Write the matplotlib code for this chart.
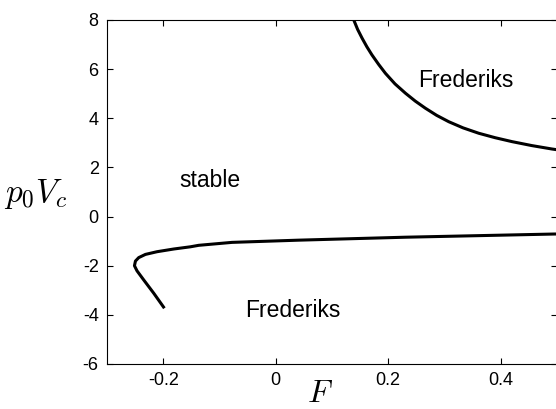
import matplotlib
matplotlib.use('Agg')
import matplotlib.pyplot as plt

# upper Frederiks boundary
f_upper = [0.1387, 0.1455, 0.1535, 0.162, 0.171, 0.183, 0.195, 0.212, 0.2306, 0.248, 0.266,
           0.286, 0.3076, 0.333, 0.361, 0.390, 0.420, 0.455, 0.491, 0.5]
p_upper = [8.0, 7.62, 7.26, 6.91, 6.58, 6.19, 5.83, 5.40, 5.02, 4.70, 4.41,
           4.12, 3.86, 3.61, 3.39, 3.21, 3.05, 2.89, 2.75, 2.72]

# lower Frederiks boundary
f_lower = [-0.198, -0.2169, -0.2347, -0.2466, -0.2512, -0.2494, -0.2436, -0.2317, -0.211,
           -0.1813, -0.1517, -0.137, -0.0777, 0.041, 0.2305, 0.496, 0.5]
p_lower = [-3.73, -3.12, -2.58, -2.21, -2.00, -1.81, -1.67, -1.54, -1.43,
           -1.32, -1.23, -1.17, -1.05, -0.96, -0.84, -0.71, -0.71]

x_ticks = [-0.2, 0, 0.2, 0.4]
x_tick_labels = ['-0.2', '0', '0.2', '0.4']
y_ticks = [-6, -4, -2, 0, 2, 4, 6, 8]

plt.rcParams['font.family'] = ['Liberation Sans', 'DejaVu Sans']
plt.rcParams['mathtext.fontset'] = 'cm'

fig = plt.figure(figsize=(5.56, 4.09), dpi=100)
ax = fig.add_axes([107 / 556, 45 / 409, 450 / 556, 344 / 409])

ax.plot(f_upper, p_upper, color='black', linewidth=2.2, solid_capstyle='butt')
ax.plot(f_lower, p_lower, color='black', linewidth=2.2, solid_capstyle='butt')

ax.set_xlim(-0.3, 0.5)
ax.set_ylim(-6, 8)
ax.set_xticks(x_ticks)
ax.set_xticklabels(x_tick_labels)
ax.set_yticks(y_ticks)
ax.set_yticklabels([str(v) for v in y_ticks])
ax.tick_params(direction='in', length=4, width=0.8, top=True, right=True,
               labelsize=13, pad=6)
for s in ax.spines.values():
    s.set_linewidth(0.8)

ax.text(-0.117, 1.45, 'stable', fontsize=16.5, ha='center', va='center')
ax.text(0.3387, 5.29, 'Frederiks', fontsize=16.5, ha='center', va='baseline')
ax.text(0.031, -4.08, 'Frederiks', fontsize=16.5, ha='center', va='baseline')

fig.text(36 / 556, 1 - 194 / 409, r'$p_0V_c$', fontsize=24, ha='center', va='center')
fig.text(320 / 556, 0.5 / 409, r'$F$', fontsize=23, ha='center', va='bottom')

fig.savefig('out.png', dpi=100)
